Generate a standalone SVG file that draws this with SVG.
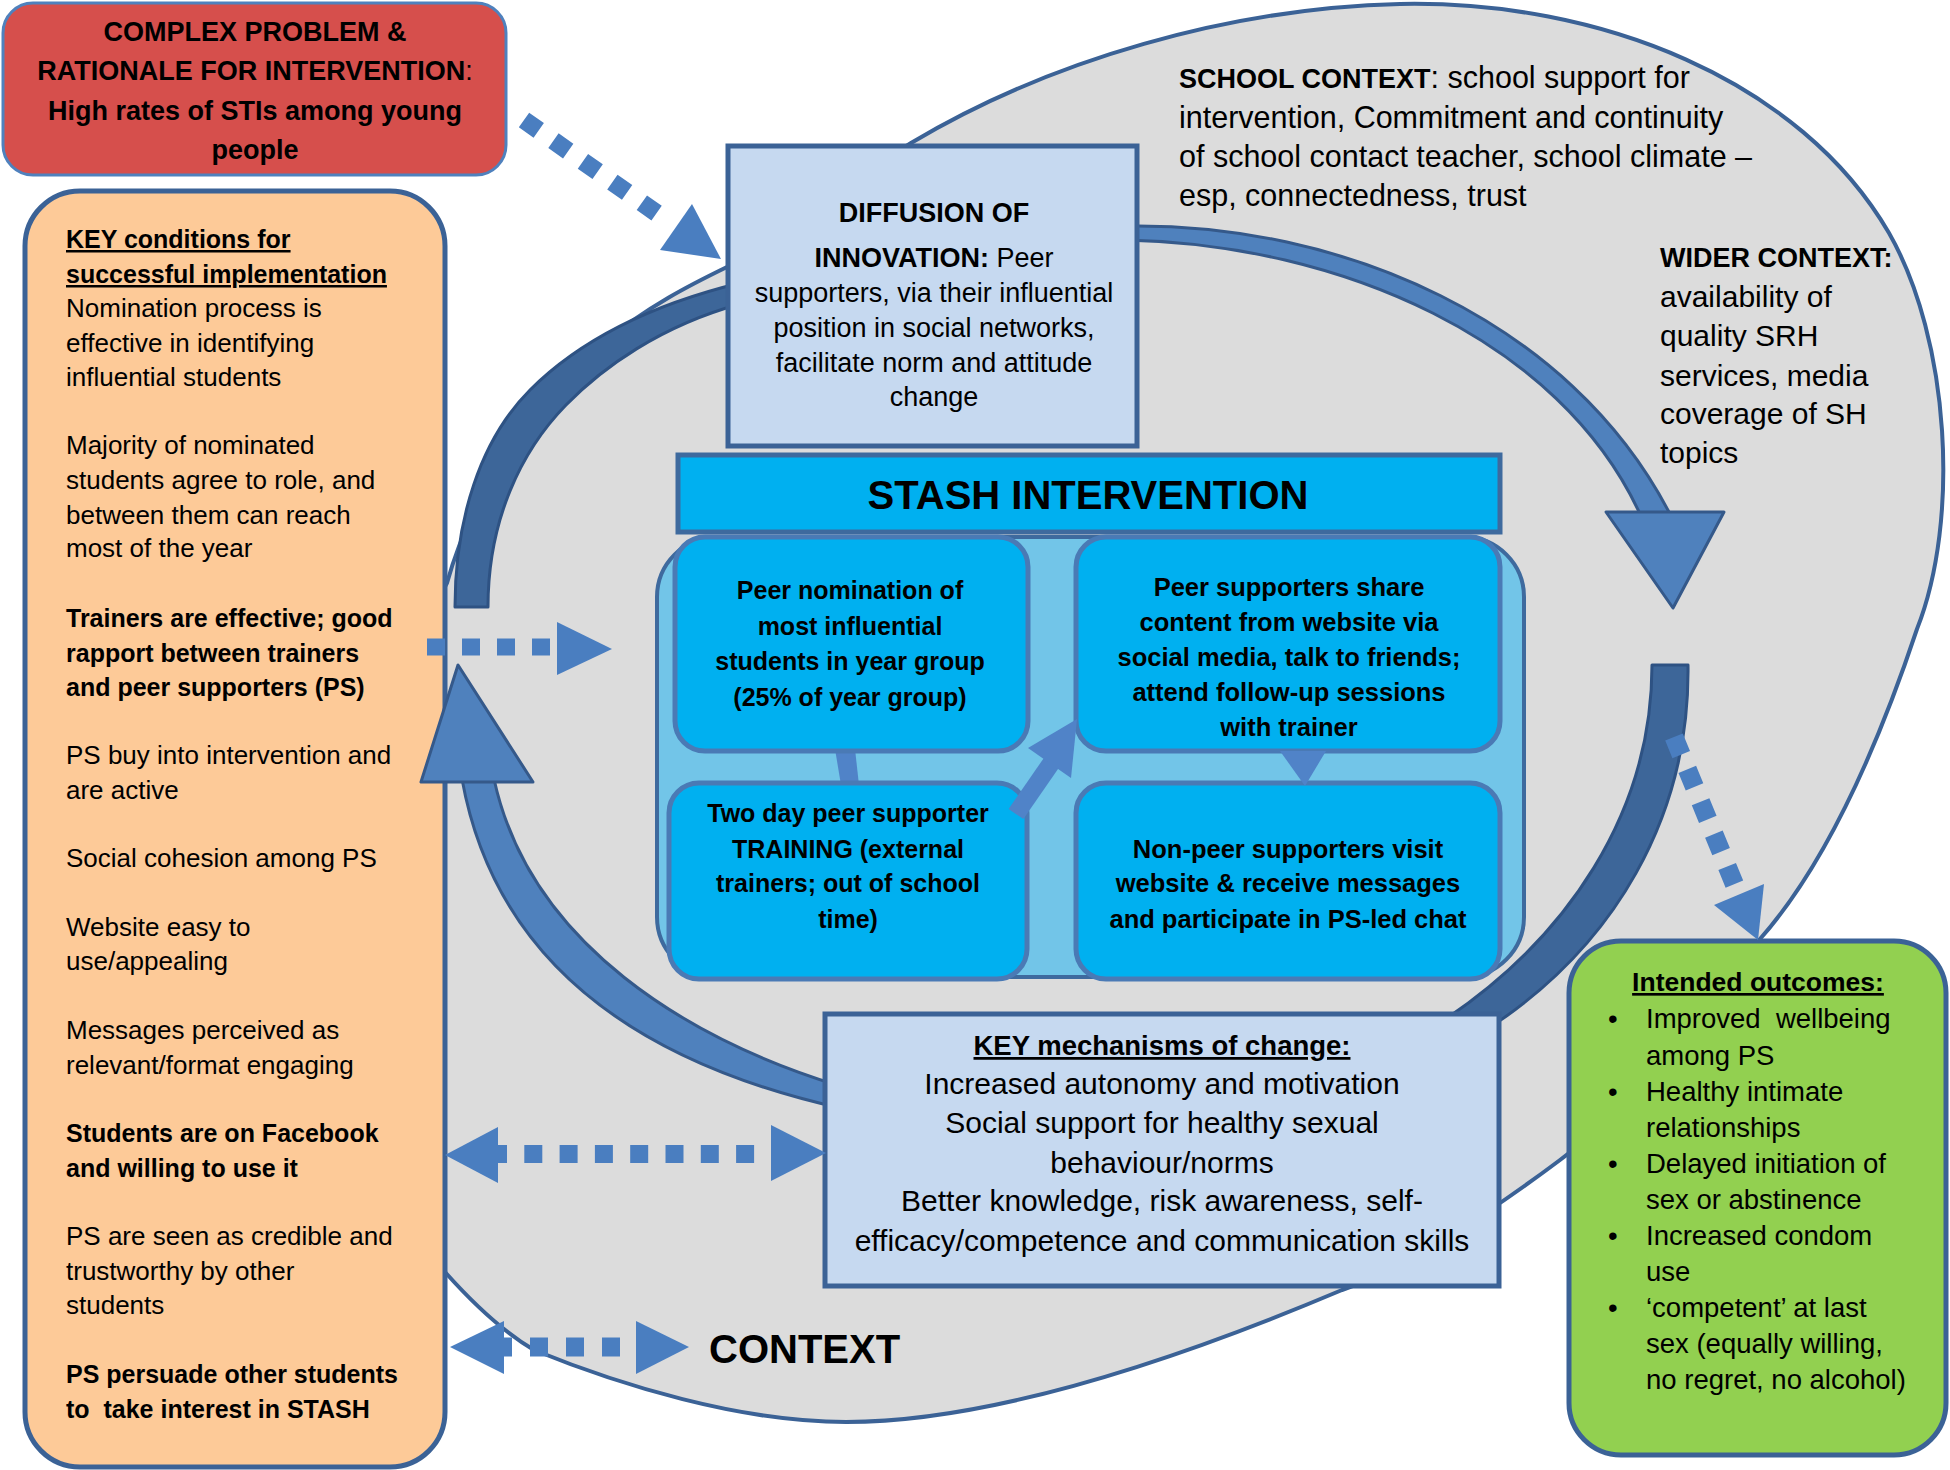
<svg xmlns="http://www.w3.org/2000/svg" width="1950" height="1470" viewBox="0 0 1950 1470">
<defs>
<style>
text { font-family: "Liberation Sans", Arial, sans-serif; fill: #000; }
.b { font-weight: bold; }
.n { font-weight: normal; }
.u { text-decoration: underline; }
.c { text-anchor: middle; }
.dot { fill: none; stroke: #4A7EC0; }
.head { fill: #4A7EC0; }
.arcm { fill: #4F81BD; stroke: #35598A; stroke-width: 3; stroke-linejoin: round; }
.arcd { fill: #3D6699; stroke: #2E5283; stroke-width: 3; stroke-linejoin: round; }
.pale { fill: #C6D9F0; stroke: #3B6296; stroke-width: 5; }
.cyan { fill: #00B0F0; stroke: #4A7AB5; stroke-width: 5; }
.inarrow { fill: #5083C8; }
</style>
</defs>
<rect x="0" y="0" width="1950" height="1470" fill="#FFFFFF"/>

<g id="context">
<path d="M447,583 C470,500 530,400 600,345 C650,305 690,285 727,267 C800,215 860,175 911,143 C1050,60 1230,8 1400,4 C1600,0 1800,80 1889,233 C1950,340 1960,520 1917,629 C1880,740 1830,860 1760,939 C1700,1010 1640,1100 1560,1160 C1480,1220 1400,1270 1342,1290 C1200,1350 1000,1422 846,1422 C740,1422 620,1385 534,1350 C500,1330 470,1300 445,1272 C380,1200 380,700 447,583 Z" fill="#DCDCDC" stroke="#3B6296" stroke-width="4"/>
<text font-size="30.5"><tspan x="1179" y="88"><tspan class="b" font-size="27">SCHOOL CONTEXT</tspan>: school support for</tspan><tspan x="1179" y="128">intervention, Commitment and continuity</tspan><tspan x="1179" y="167">of school contact teacher, school climate –</tspan><tspan x="1179" y="206">esp, connectedness, trust</tspan></text>
<text font-size="30"><tspan x="1660" y="267" class="b" font-size="27">WIDER CONTEXT:</tspan><tspan x="1660" y="307">availability of</tspan><tspan x="1660" y="346">quality SRH</tspan><tspan x="1660" y="386">services, media</tspan><tspan x="1660" y="424">coverage of SH</tspan><tspan x="1660" y="463">topics</tspan></text>
<text x="709" y="1363" class="b" font-size="40">CONTEXT</text>
</g>

<g id="key-conditions">
<rect x="25" y="191" width="420" height="1276" rx="55" fill="#FDCA98" stroke="#3B6296" stroke-width="5"/>
<text font-size="26">
<tspan x="66" y="248" class="b u" font-size="25">KEY conditions for</tspan>
<tspan x="66" y="283" class="b u" font-size="25">successful implementation</tspan>
<tspan x="66" y="317">Nomination process is</tspan>
<tspan x="66" y="352">effective in identifying</tspan>
<tspan x="66" y="386">influential students</tspan>
<tspan x="66" y="454">Majority of nominated</tspan>
<tspan x="66" y="489">students agree to role, and</tspan>
<tspan x="66" y="524">between them can reach</tspan>
<tspan x="66" y="557">most of the year</tspan>
<tspan x="66" y="627" class="b" font-size="25">Trainers are effective; good</tspan>
<tspan x="66" y="662" class="b" font-size="25">rapport between trainers</tspan>
<tspan x="66" y="696" class="b" font-size="25">and peer supporters (PS)</tspan>
<tspan x="66" y="764">PS buy into intervention and</tspan>
<tspan x="66" y="799">are active</tspan>
<tspan x="66" y="867">Social cohesion among PS</tspan>
<tspan x="66" y="936">Website easy to</tspan>
<tspan x="66" y="970">use/appealing</tspan>
<tspan x="66" y="1039">Messages perceived as</tspan>
<tspan x="66" y="1074">relevant/format engaging</tspan>
<tspan x="66" y="1142" class="b" font-size="25">Students are on Facebook</tspan>
<tspan x="66" y="1177" class="b" font-size="25">and willing to use it</tspan>
<tspan x="66" y="1245">PS are seen as credible and</tspan>
<tspan x="66" y="1280">trustworthy by other</tspan>
<tspan x="66" y="1314">students</tspan>
<tspan x="66" y="1383" class="b" font-size="25">PS persuade other students</tspan>
<tspan x="66" y="1418" class="b" font-size="25">to&#160; take interest in STASH</tspan>
</text>
</g>

<g id="outcomes">
<rect x="1569" y="941" width="377" height="514" rx="52" fill="#92D050" stroke="#3B6296" stroke-width="5"/>
<text x="1758" y="991" class="b u c" font-size="26.5">Intended outcomes:</text>
<text font-size="27.5">
<tspan x="1608" y="1028">•</tspan><tspan x="1646" y="1028">Improved&#160; wellbeing</tspan>
<tspan x="1646" y="1065">among PS</tspan>
<tspan x="1608" y="1101">•</tspan><tspan x="1646" y="1101">Healthy intimate</tspan>
<tspan x="1646" y="1137">relationships</tspan>
<tspan x="1608" y="1173">•</tspan><tspan x="1646" y="1173">Delayed initiation of</tspan>
<tspan x="1646" y="1209">sex or abstinence</tspan>
<tspan x="1608" y="1245">•</tspan><tspan x="1646" y="1245">Increased condom</tspan>
<tspan x="1646" y="1281">use</tspan>
<tspan x="1608" y="1317">•</tspan><tspan x="1646" y="1317">‘competent’ at last</tspan>
<tspan x="1646" y="1353">sex (equally willing,</tspan>
<tspan x="1646" y="1389">no regret, no alcohol)</tspan>
</text>
</g>

<g id="problem">
<rect x="3" y="3" width="503" height="172" rx="30" fill="#D64F4C" stroke="#4F81BD" stroke-width="3"/>
<text class="b c" font-size="27"><tspan x="255" y="41">COMPLEX PROBLEM &amp;</tspan><tspan x="255" y="80">RATIONALE FOR INTERVENTION<tspan class="n">:</tspan></tspan><tspan x="255" y="120">High rates of STIs among young</tspan><tspan x="255" y="159">people</tspan></text>
</g>

<g id="cycle-arrows">
<path class="arcd" d="M455,607 C455,520 480,440 530,390 C580,340 650,305 740,283 L740,304 C660,326 602,368 566,405 C521,451 488,520 488,607 Z"/>
<path class="arcm" d="M1125,226 C1340,222 1570,320 1670,514 L1640,514 C1560,340 1340,244 1125,240 Z"/>
<path class="arcm" d="M1606,512 L1724,512 L1673,608 Z"/>
<path class="arcd" d="M1688,665 C1690,810 1620,950 1470,1040 L1432,1028 C1570,940 1652,810 1652,665 Z"/>
<path class="arcm" d="M840,1108 C680,1072 500,990 462,779 L494,779 C530,945 690,1040 840,1086 Z"/>
<path class="arcm" d="M421,782 L533,782 L458,665 Z"/>
</g>

<g id="diffusion">
<rect x="728" y="146" width="409" height="300" class="pale"/>
<text class="c" font-size="27"><tspan x="934" y="222" class="b">DIFFUSION OF</tspan><tspan x="934" y="267"><tspan class="b">INNOVATION:</tspan> Peer</tspan><tspan x="934" y="302">supporters, via their influential</tspan><tspan x="934" y="337">position in social networks,</tspan><tspan x="934" y="372">facilitate norm and attitude</tspan><tspan x="934" y="406">change</tspan></text>
</g>

<g id="stash">
<rect x="657" y="537" width="867" height="440" rx="60" fill="#72C5E8" stroke="#3E6A9E" stroke-width="4"/>
<rect x="678" y="455" width="822" height="77" fill="#00B0F0" stroke="#3E6A9E" stroke-width="5"/>
<text x="1088" y="509" class="b c" font-size="40">STASH INTERVENTION</text>
</g>

<g id="stash-links-under">
<polygon class="inarrow" points="835,749 855,749 859,785 841,785"/>
</g>

<g id="peer-nomination">
<rect x="675" y="537" width="353" height="214" rx="30" class="cyan"/>
<text class="b c" font-size="25"><tspan x="850" y="599">Peer nomination of</tspan><tspan x="850" y="635">most influential</tspan><tspan x="850" y="670">students in year group</tspan><tspan x="850" y="706">(25% of year group)</tspan></text>
</g>

<g id="peer-share">
<rect x="1076" y="537" width="424" height="214" rx="30" class="cyan"/>
<text class="b c" font-size="25.5"><tspan x="1289" y="596">Peer supporters share</tspan><tspan x="1289" y="631">content from website via</tspan><tspan x="1289" y="666">social media, talk to friends;</tspan><tspan x="1289" y="701">attend follow-up sessions</tspan><tspan x="1289" y="736">with trainer</tspan></text>
</g>

<g id="training">
<rect x="669" y="783" width="358" height="196" rx="30" class="cyan"/>
<text class="b c" font-size="25"><tspan x="848" y="822">Two day peer supporter</tspan><tspan x="848" y="858">TRAINING (external</tspan><tspan x="848" y="892">trainers; out of school</tspan><tspan x="848" y="928">time)</tspan></text>
</g>

<g id="non-peer">
<rect x="1076" y="783" width="424" height="196" rx="30" class="cyan"/>
<text class="b c" font-size="25.5"><tspan x="1288" y="858">Non-peer supporters visit</tspan><tspan x="1288" y="892">website &amp; receive messages</tspan><tspan x="1288" y="928">and participate in PS-led chat</tspan></text>
</g>

<g id="stash-links">
<line x1="1016" y1="814" x2="1052" y2="762" stroke="#5083C8" stroke-width="18"/>
<polygon class="inarrow" points="1028,748 1077,719 1071,778"/>
<polygon class="inarrow" points="1280,751 1326,751 1305,786"/>
</g>

<g id="mechanisms">
<rect x="825" y="1014" width="674" height="272" class="pale"/>
<text class="c" font-size="30"><tspan x="1162" y="1055" class="b u" font-size="27.5">KEY mechanisms of change:</tspan><tspan x="1162" y="1094">Increased autonomy and motivation</tspan><tspan x="1162" y="1133">Social support for healthy sexual</tspan><tspan x="1162" y="1173">behaviour/norms</tspan><tspan x="1162" y="1211">Better knowledge, risk awareness, self-</tspan><tspan x="1162" y="1251">efficacy/competence and communication skills</tspan></text>
</g>

<g id="connectors">
<line class="dot" x1="524" y1="120" x2="665" y2="219" stroke-width="18" stroke-dasharray="18 18"/>
<polygon class="head" points="721,259 692,204 660,250"/>
<line class="dot" x1="427" y1="647" x2="552" y2="647" stroke-width="17" stroke-dasharray="18 17"/>
<polygon class="head" points="557,622 557,675 612,649"/>
<line class="dot" x1="489" y1="1154" x2="776" y2="1154" stroke-width="18" stroke-dasharray="18 17.3"/>
<polygon class="head" points="445,1155 498,1127 498,1183"/>
<polygon class="head" points="771,1125 771,1181 826,1153"/>
<line class="dot" x1="494" y1="1347" x2="637" y2="1347" stroke-width="19" stroke-dasharray="18 18"/>
<polygon class="head" points="450,1347 504,1321 504,1374"/>
<polygon class="head" points="636,1321 636,1374 689,1347"/>
<line class="dot" x1="1674" y1="737" x2="1736" y2="888" stroke-width="19" stroke-dasharray="19 16"/>
<polygon class="head" points="1714,905 1764,884 1758,940"/>
</g>
</svg>
